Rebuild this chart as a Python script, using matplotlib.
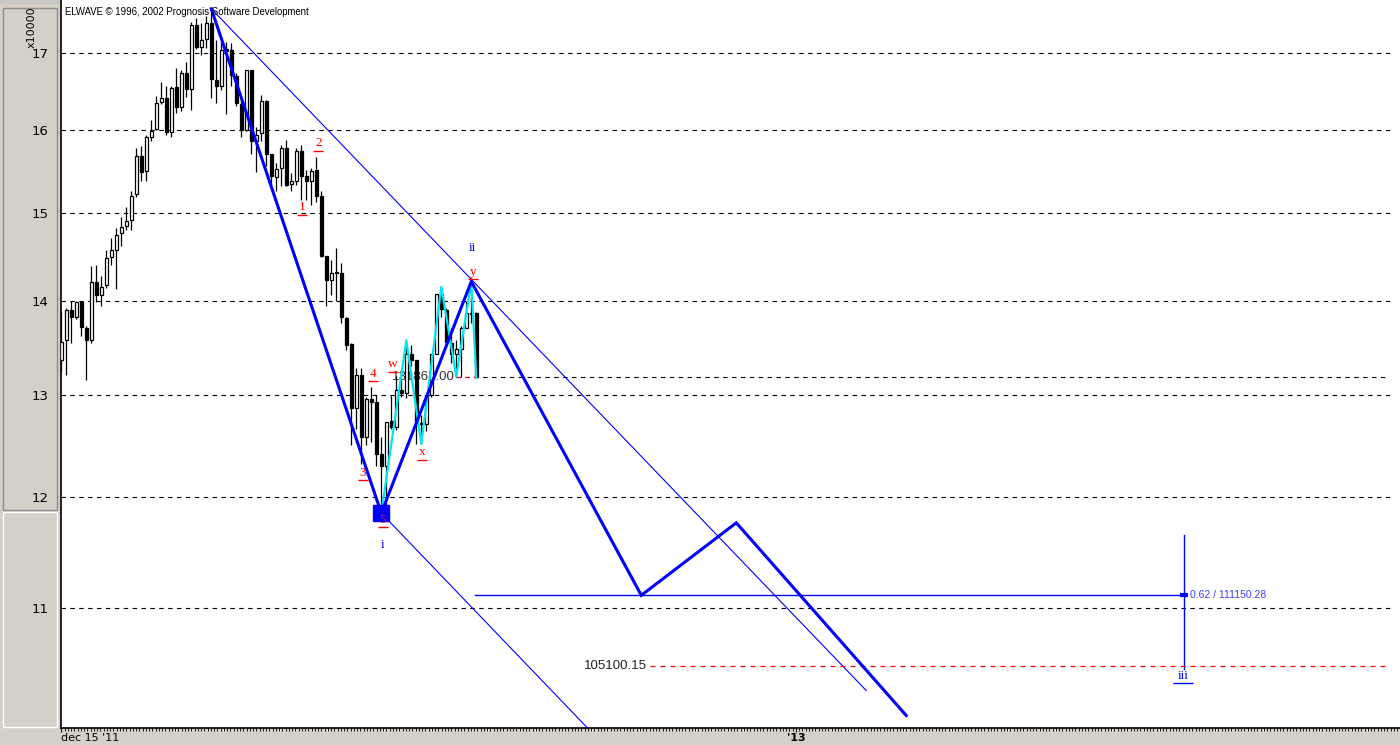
import numpy as np
import matplotlib.pyplot as plt
from matplotlib.patches import Rectangle
from matplotlib.transforms import offset_copy
from matplotlib.ticker import FixedLocator, NullFormatter

# --- price bars (values in units of 10000) ---
opens = [13.36, 13.57, 13.90, 13.82, 13.98, 13.70, 13.57, 14.21, 14.06, 14.17,
         14.49, 14.57, 14.76, 14.84, 14.91, 15.22, 15.68, 15.50, 15.92, 16.01,
         16.36, 16.41, 15.98, 16.55, 16.30, 16.73, 16.53, 17.38, 17.08, 17.19,
         17.41, 16.64, 16.56, 17.05, 17.04, 16.70, 16.33, 16.00, 16.77, 15.87,
         15.96, 16.37, 15.70, 15.42, 15.53, 15.78, 15.34, 15.37, 15.74, 15.44,
         15.37, 15.51, 15.19, 14.50, 14.23, 14.32, 14.30, 13.81, 13.53, 12.87,
         13.21, 12.58, 12.96, 12.93, 12.41, 12.30, 12.74, 12.68, 13.05, 13.02,
         13.43, 13.36, 12.72, 12.71, 13.00, 13.42, 14.07, 13.90, 13.54, 13.43,
         13.48, 13.70, 13.86, 13.86]
highs = [13.88, 13.92, 14.00, 14.00, 14.00, 13.72, 14.38, 14.39, 14.27, 14.57,
         14.70, 14.82, 14.95, 15.06, 15.25, 15.78, 15.80, 15.94, 16.13, 16.43,
         16.62, 16.56, 16.56, 16.80, 16.77, 16.88, 17.42, 17.47, 17.40, 17.50,
         17.60, 17.17, 17.15, 17.15, 17.13, 16.73, 16.43, 16.78, 16.78, 16.04,
         16.45, 16.39, 15.71, 15.59, 15.82, 15.88, 15.47, 15.78, 15.82, 15.51,
         15.53, 15.67, 15.25, 14.50, 14.45, 14.59, 14.42, 13.82, 13.54, 13.28,
         13.28, 12.98, 13.08, 13.00, 12.58, 12.73, 13.00, 13.20, 13.26, 13.57,
         13.52, 13.36, 12.80, 13.00, 13.43, 14.07, 14.15, 13.92, 13.70, 13.57,
         13.72, 14.00, 14.21, 13.87]
lows = [13.24, 13.21, 13.54, 13.80, 13.62, 13.15, 13.54, 13.98, 13.94, 14.14,
        14.39, 14.13, 14.61, 14.80, 14.80, 15.18, 15.37, 15.37, 15.86, 16.00,
        16.33, 15.94, 15.92, 16.22, 16.24, 16.42, 16.26, 17.05, 16.97, 17.06,
        16.41, 16.35, 16.51, 16.20, 16.56, 16.31, 15.92, 15.99, 15.71, 15.49,
        15.86, 15.56, 15.33, 15.25, 15.31, 15.31, 15.25, 15.33, 15.15, 15.15,
        15.09, 15.13, 14.49, 13.94, 14.06, 14.00, 13.75, 13.47, 12.50, 12.66,
        12.32, 12.50, 12.53, 12.30, 11.85, 11.90, 12.66, 12.65, 12.98, 12.97,
        13.30, 12.51, 12.51, 12.64, 12.98, 13.42, 13.82, 13.50, 13.33, 13.19,
        13.19, 13.70, 13.75, 13.18]
closes = [13.55, 13.90, 13.82, 13.98, 13.71, 13.57, 14.21, 14.06, 14.15, 14.47,
          14.57, 14.74, 14.83, 14.90, 15.20, 15.68, 15.49, 15.91, 15.99, 16.35,
          16.41, 15.98, 16.54, 16.30, 16.73, 16.53, 17.38, 17.08, 17.18, 17.41,
          16.66, 16.56, 17.04, 17.03, 16.71, 16.34, 16.00, 16.77, 15.87, 15.94,
          16.37, 15.70, 15.44, 15.52, 15.78, 15.33, 15.37, 15.74, 15.44, 15.37,
          15.50, 15.20, 14.50, 14.23, 14.30, 14.30, 13.82, 13.52, 12.87, 13.21,
          12.58, 12.96, 12.93, 12.41, 12.30, 12.73, 12.68, 13.05, 13.02, 13.42,
          13.36, 12.73, 12.71, 13.00, 13.42, 14.07, 13.91, 13.55, 13.43, 13.48,
          13.70, 13.86, 13.85, 13.19]

# --- wave count (bar index, price) ---
wave_x = [30, 64, 82, 116, 135, 169]
wave_y = [17.60, 11.85, 14.21, 11.11, 11.76, 10.11]
sub_x = [64, 69, 72, 76, 79, 82, 83]
sub_y = [11.85, 13.57, 12.51, 14.15, 13.19, 14.21, 13.18]
upper_x = [30, 161]
upper_y = [17.60, 10.31]
lower_x = [64, 108]
lower_y = [11.85, 9.90]

labels_red = ['1', '2', '3', '4', '5', 'w', 'x', 'y']
labels_red_x = [48.2, 51.4, 60.3, 62.3, 64.3, 66.3, 72.1, 82.3]
labels_red_y = [15.06, 15.84, 12.23, 13.22, 11.79, 13.32, 12.43, 14.32]
labels_blue = ['i', 'ii', 'iii']
labels_blue_x = [64.3, 82.3, 224.4]
labels_blue_y = [11.56, 14.59, 10.43]

fib_level = 11.11503      # 0.62 / 111150.28
fib_start, fib_end = 82.7, 224.5
fib_range = [11.65, 10.49]
target_level = 10.510015  # 105100.15
target_start, target_end = 117.8, 264.7
last_level = 13.1865      # 131865.00
grid_levels = [11, 12, 13, 14, 15, 16, 17]

W, H = 1400, 745
fig = plt.figure(figsize=(W / 100, H / 100), dpi=100)
fig.patch.set_facecolor('#d4d0c8')

# left price panel boxes and top strip (kept below the axes)
fig.patches.append(Rectangle((3 / W, (H - 510) / H), 54 / W, 502 / H, transform=fig.transFigure,
                             facecolor='#d4d0c8', edgecolor='#8c8c8c', lw=1, zorder=-2))
fig.patches.append(Rectangle((3 / W, (H - 727) / H), 54 / W, 215 / H, transform=fig.transFigure,
                             facecolor='#d4d0c8', edgecolor='#ffffff', lw=1, zorder=-2))
fig.patches.append(Rectangle((0, (H - 4) / H), 1, 4 / H, transform=fig.transFigure,
                             facecolor='#c8c8c8', edgecolor='none', zorder=-2))

ax = fig.add_axes([61 / W, 17 / H, (W - 61) / W, 728 / H])
ax.set_facecolor('white')
ax.set_yscale('log')
ax.set_xlim(-0.06, 267.74)
ax.set_ylim(10.012, 17.721)

for s in ['top', 'right']:
    ax.spines[s].set_visible(False)
ax.spines['left'].set_linewidth(1.2)
ax.spines['bottom'].set_linewidth(1.2)

# grid
for g in grid_levels:
    ax.axhline(g, color='black', lw=0.8, ls=(0, (4, 4)), zorder=1, xmax=0.995)
ax.plot([79, 265], [last_level, last_level], color='black', lw=0.8, ls=(0, (4, 4)), zorder=1)
ax.plot([79, 84], [last_level, last_level], color='red', lw=0.8, ls=(0, (4, 4)), zorder=2)

# candles
idx = np.arange(len(opens))
o = np.array(opens); c = np.array(closes)
ax.vlines(idx, lows, highs, color='black', lw=0.9, zorder=3)
up = c >= o
ax.bar(idx[up], (c - o)[up], bottom=o[up], width=0.72, facecolor='white',
       edgecolor='black', lw=0.9, zorder=4)
ax.bar(idx[~up], (o - c)[~up], bottom=c[~up], width=0.72, facecolor='black',
       edgecolor='black', lw=0.9, zorder=4)

# wave lines
ax.plot(upper_x, upper_y, color='#0000ff', lw=0.8, zorder=5)
ax.plot(lower_x, lower_y, color='#0000ff', lw=0.8, zorder=5)
ax.plot(sub_x, sub_y, color='#00e5ee', lw=1.6, zorder=5)
ax.plot(wave_x, wave_y, color='#0000ff', lw=2.2, zorder=6, solid_joinstyle='miter')
ax.plot([wave_x[1]], [wave_y[1]], marker='s', ms=11, color='#0000ff', zorder=7)

# fib projection
ax.plot([fib_start, fib_end], [fib_level, fib_level], color='#0000ff', lw=1.0, zorder=5)
ax.plot([fib_end, fib_end], fib_range, color='#0000ff', lw=1.0, zorder=5)
ax.plot([fib_end - 0.8, fib_end + 0.8], [fib_level, fib_level], color='#0000ff', lw=3, zorder=6,
        solid_capstyle='butt')
ax.text(fib_end + 1.2, fib_level, '0.62 / 111150.28', color='#3c3cff', fontsize=7.5,
        va='center', ha='left', family='Liberation Sans')
ax.plot([target_start, target_end], [target_level, target_level], color='red', lw=0.9,
        ls=(0, (4, 4)), zorder=5)
ax.text(target_start - 0.6, target_level, '105100.15', color='#222222', fontsize=9.5,
        va='center', ha='right', family='Liberation Sans')
ax.text(66.1, last_level, '131865.00', color='#333333', fontsize=9.5, va='center',
        ha='left', family='Liberation Sans', zorder=2)

# wave labels
def wave_label(x, y, t, color, underline):
    ax.text(x, y, t, color=color, fontsize=9.5, ha='center', va='center',
            family='Liberation Serif', zorder=8)
    if underline:
        tr = offset_copy(ax.transData, fig=fig, x=0, y=-5.5, units='points')
        ax.plot([x], [y], marker='_', ms=3 + 4 * len(t), mew=1.0, color=color,
                transform=tr, zorder=8)

for t, x, y in zip(labels_red, labels_red_x, labels_red_y):
    wave_label(x, y, t, 'red', True)
for t, x, y in zip(labels_blue, labels_blue_x, labels_blue_y):
    wave_label(x, y, t, '#0000ff', t == 'iii')

fig.text(65 / W, 1 - 12 / H, 'ELWAVE \u00a9 1996, 2002 Prognosis Software Development',
         fontsize=6.9, va='center', ha='left', family='Liberation Sans')

# y axis labels in the left panel
ax.yaxis.set_major_locator(FixedLocator(grid_levels))
ax.yaxis.set_major_formatter(plt.FuncFormatter(lambda v, p: '%d' % round(v)))
ax.yaxis.set_minor_locator(FixedLocator([]))
ax.yaxis.set_minor_formatter(NullFormatter())
ax.tick_params(axis='y', length=0, pad=9, labelsize=9.5)
fig.text(32 / W, 1 - 27 / H, 'x10000', rotation=90, fontsize=8, va='center', ha='center')

# x axis: small ticks along the bottom
ax.xaxis.set_major_locator(FixedLocator([0, 147]))
ax.set_xticklabels(["dec 15 '11", "'13"])
ax.xaxis.set_minor_locator(FixedLocator(np.arange(0, 268, 0.65)))
ax.tick_params(axis='x', which='major', length=3, pad=0.5, labelsize=8)
ax.tick_params(axis='x', which='minor', length=2.5, width=0.6)
lbls = ax.get_xticklabels()
lbls[0].set_ha('left')
lbls[1].set_fontweight('bold')

fig.savefig('out.png', dpi=100, facecolor=fig.get_facecolor())
